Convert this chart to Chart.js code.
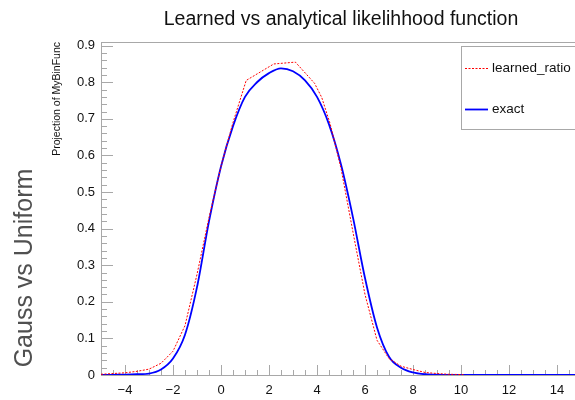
<!DOCTYPE html>
<html>
<head>
<meta charset="utf-8">
<script src="https://cdn.jsdelivr.net/npm/chart.js@4.4.1/dist/chart.umd.min.js"></script>
<style>
  html, body { margin: 0; padding: 0; background: #fff; overflow: hidden; }
</style>
</head>
<body>
<canvas id="chart" width="600" height="400"></canvas>
<script>
const exactX = [-5, -4.5, -4, -3.5, -3, -2.5, -2, -1.5, -1, -0.5, 0, 0.5, 1, 1.5, 2, 2.5, 3, 3.5, 4, 4.5, 5, 5.5, 6, 6.5, 7, 7.5, 8, 8.5, 9, 9.5, 10, 11, 12, 13, 14, 15];
const exactY = [0, 0.0005, 0.001, 0.002, 0.004, 0.015, 0.045, 0.11, 0.24, 0.42, 0.57, 0.68, 0.76, 0.80, 0.825, 0.838, 0.83, 0.805, 0.76, 0.685, 0.575, 0.43, 0.265, 0.13, 0.05, 0.02, 0.007, 0.002, 0.001, 0, 0, 0, 0, 0, 0, 0];

const learnedX = [-5, -4.5, -4, -3.5, -3, -2.5, -2, -1.5, -1, -0.5, 0, 0.5, 1.05, 2.2, 3.1, 3.9, 4.2, 4.55, 5, 5.5, 6, 6.5, 7, 7.5, 8, 8.5, 9, 9.5, 10.1];
const learnedY = [0.002, 0.004, 0.006, 0.01, 0.016, 0.032, 0.065, 0.135, 0.275, 0.43, 0.57, 0.69, 0.805, 0.85, 0.855, 0.797, 0.758, 0.686, 0.565, 0.39, 0.22, 0.095, 0.045, 0.024, 0.015, 0.007, 0.004, 0.002, 0.001];

const xTickValues = [-4, -2, 0, 2, 4, 6, 8, 10, 12, 14];
const yTickValues = [0, 0.1, 0.2, 0.3, 0.4, 0.5, 0.6, 0.7, 0.8, 0.9];

const chartTitle = 'Learned vs analytical likelihhood function';
const yTitle = 'Projection of MyBinFunc';
const sideTitle = 'Gauss vs Uniform';
const seriesNames = ['learned_ratio', 'exact'];

const FONT = '"Liberation Sans", Arial, Helvetica, sans-serif';

function toPoints(xs, ys) {
  return xs.map((x, i) => ({x, y: ys[i]}));
}

// ROOT-like frame with inward ticks, side label and legend box
const rootDecor = {
  id: 'rootDecor',
  beforeDatasetsDraw(chart) {
    const {ctx, chartArea: a, scales: {x, y}} = chart;
    ctx.save();
    ctx.strokeStyle = '#a8a8a8';
    ctx.lineWidth = 1;
    ctx.strokeRect(Math.round(a.left) + 0.5, Math.round(a.top) + 0.5, a.right - a.left, a.bottom - a.top);

    ctx.beginPath();
    for (let i = 0; i <= 45; i++) {
      const py = Math.round(y.getPixelForValue(i * 0.02)) + 0.5;
      const len = i % 5 === 0 ? 12 : 6;
      ctx.moveTo(a.left, py);
      ctx.lineTo(a.left + len, py);
    }
    for (let i = -10; i <= 30; i++) {
      const px = Math.round(x.getPixelForValue(i / 2)) + 0.5;
      const len = i % 4 === 0 ? 10 : 5;
      ctx.moveTo(px, a.bottom);
      ctx.lineTo(px, a.bottom - len);
    }
    ctx.stroke();

    ctx.fillStyle = '#505050';
    ctx.font = '25px ' + FONT;
    ctx.textAlign = 'center';
    ctx.textBaseline = 'middle';
    ctx.translate(25, 268);
    ctx.rotate(-Math.PI / 2);
    ctx.fillText(sideTitle, 0, 0);
    ctx.restore();
  },
  afterDatasetsDraw(chart) {
    const {ctx} = chart;
    ctx.save();
    ctx.fillStyle = '#fff';
    ctx.fillRect(461.5, 46.5, 130, 83);
    ctx.strokeStyle = '#a8a8a8';
    ctx.lineWidth = 1;
    ctx.strokeRect(461.5, 46.5, 130, 83);

    const rows = [
      {y: 68, color: '#ff0000', dash: [2, 1.5], width: 1},
      {y: 109, color: '#0000ff', dash: [], width: 1.8},
    ];
    ctx.font = '13.5px ' + FONT;
    ctx.textBaseline = 'middle';
    rows.forEach((r, i) => {
      ctx.beginPath();
      ctx.setLineDash(r.dash);
      ctx.strokeStyle = r.color;
      ctx.lineWidth = r.width;
      ctx.moveTo(465, r.y + 0.5);
      ctx.lineTo(488, r.y + 0.5);
      ctx.stroke();
      ctx.fillStyle = '#111';
      ctx.fillText(seriesNames[i], 492, r.y);
    });
    ctx.restore();
  },
};

new Chart(document.getElementById('chart'), {
  type: 'line',
  data: {
    datasets: [
      {
        label: seriesNames[0],
        data: toPoints(learnedX, learnedY),
        borderColor: '#ff0000',
        borderWidth: 1,
        borderDash: [2, 1.5],
        pointRadius: 0,
        tension: 0,
        fill: false,
      },
      {
        label: seriesNames[1],
        data: toPoints(exactX, exactY),
        borderColor: '#0000ff',
        borderWidth: 1.8,
        pointRadius: 0,
        cubicInterpolationMode: 'monotone',
        fill: false,
      },
    ],
  },
  options: {
    responsive: false,
    animation: false,
    layout: {padding: {left: 0, right: 19, top: 0, bottom: 0}},
    plugins: {
      legend: {display: false},
      tooltip: {enabled: false},
      title: {
        display: true,
        text: chartTitle,
        fullSize: false,
        color: '#111',
        font: {family: FONT, size: 19.5, weight: 'normal'},
        padding: {top: 8.3, bottom: 10.3},
      },
    },
    scales: {
      x: {
        type: 'linear',
        min: -5,
        max: 15,
        grid: {display: false, drawTicks: false},
        border: {display: false},
        afterFit: s => { s.height = 25; },
        afterBuildTicks: s => { s.ticks = xTickValues.map(value => ({value})); },
        ticks: {
          maxRotation: 0,
          autoSkip: false,
          padding: 8,
          color: '#111',
          font: {family: FONT, size: 13},
          callback: v => String(v).replace('-', '\u2212'),
        },
      },
      y: {
        type: 'linear',
        min: 0,
        max: 0.91,
        grid: {display: false, drawTicks: false},
        border: {display: false},
        afterFit: s => { s.width = 101; },
        afterBuildTicks: s => { s.ticks = yTickValues.map(value => ({value})); },
        title: {
          display: true,
          text: yTitle,
          align: 'end',
          color: '#111',
          font: {family: FONT, size: 10.5},
          padding: {top: 51, bottom: 0},
        },
        ticks: {
          autoSkip: false,
          padding: 6,
          color: '#111',
          font: {family: FONT, size: 13},
          callback: v => String(v),
        },
      },
    },
  },
  plugins: [rootDecor],
});
</script>
</body>
</html>
